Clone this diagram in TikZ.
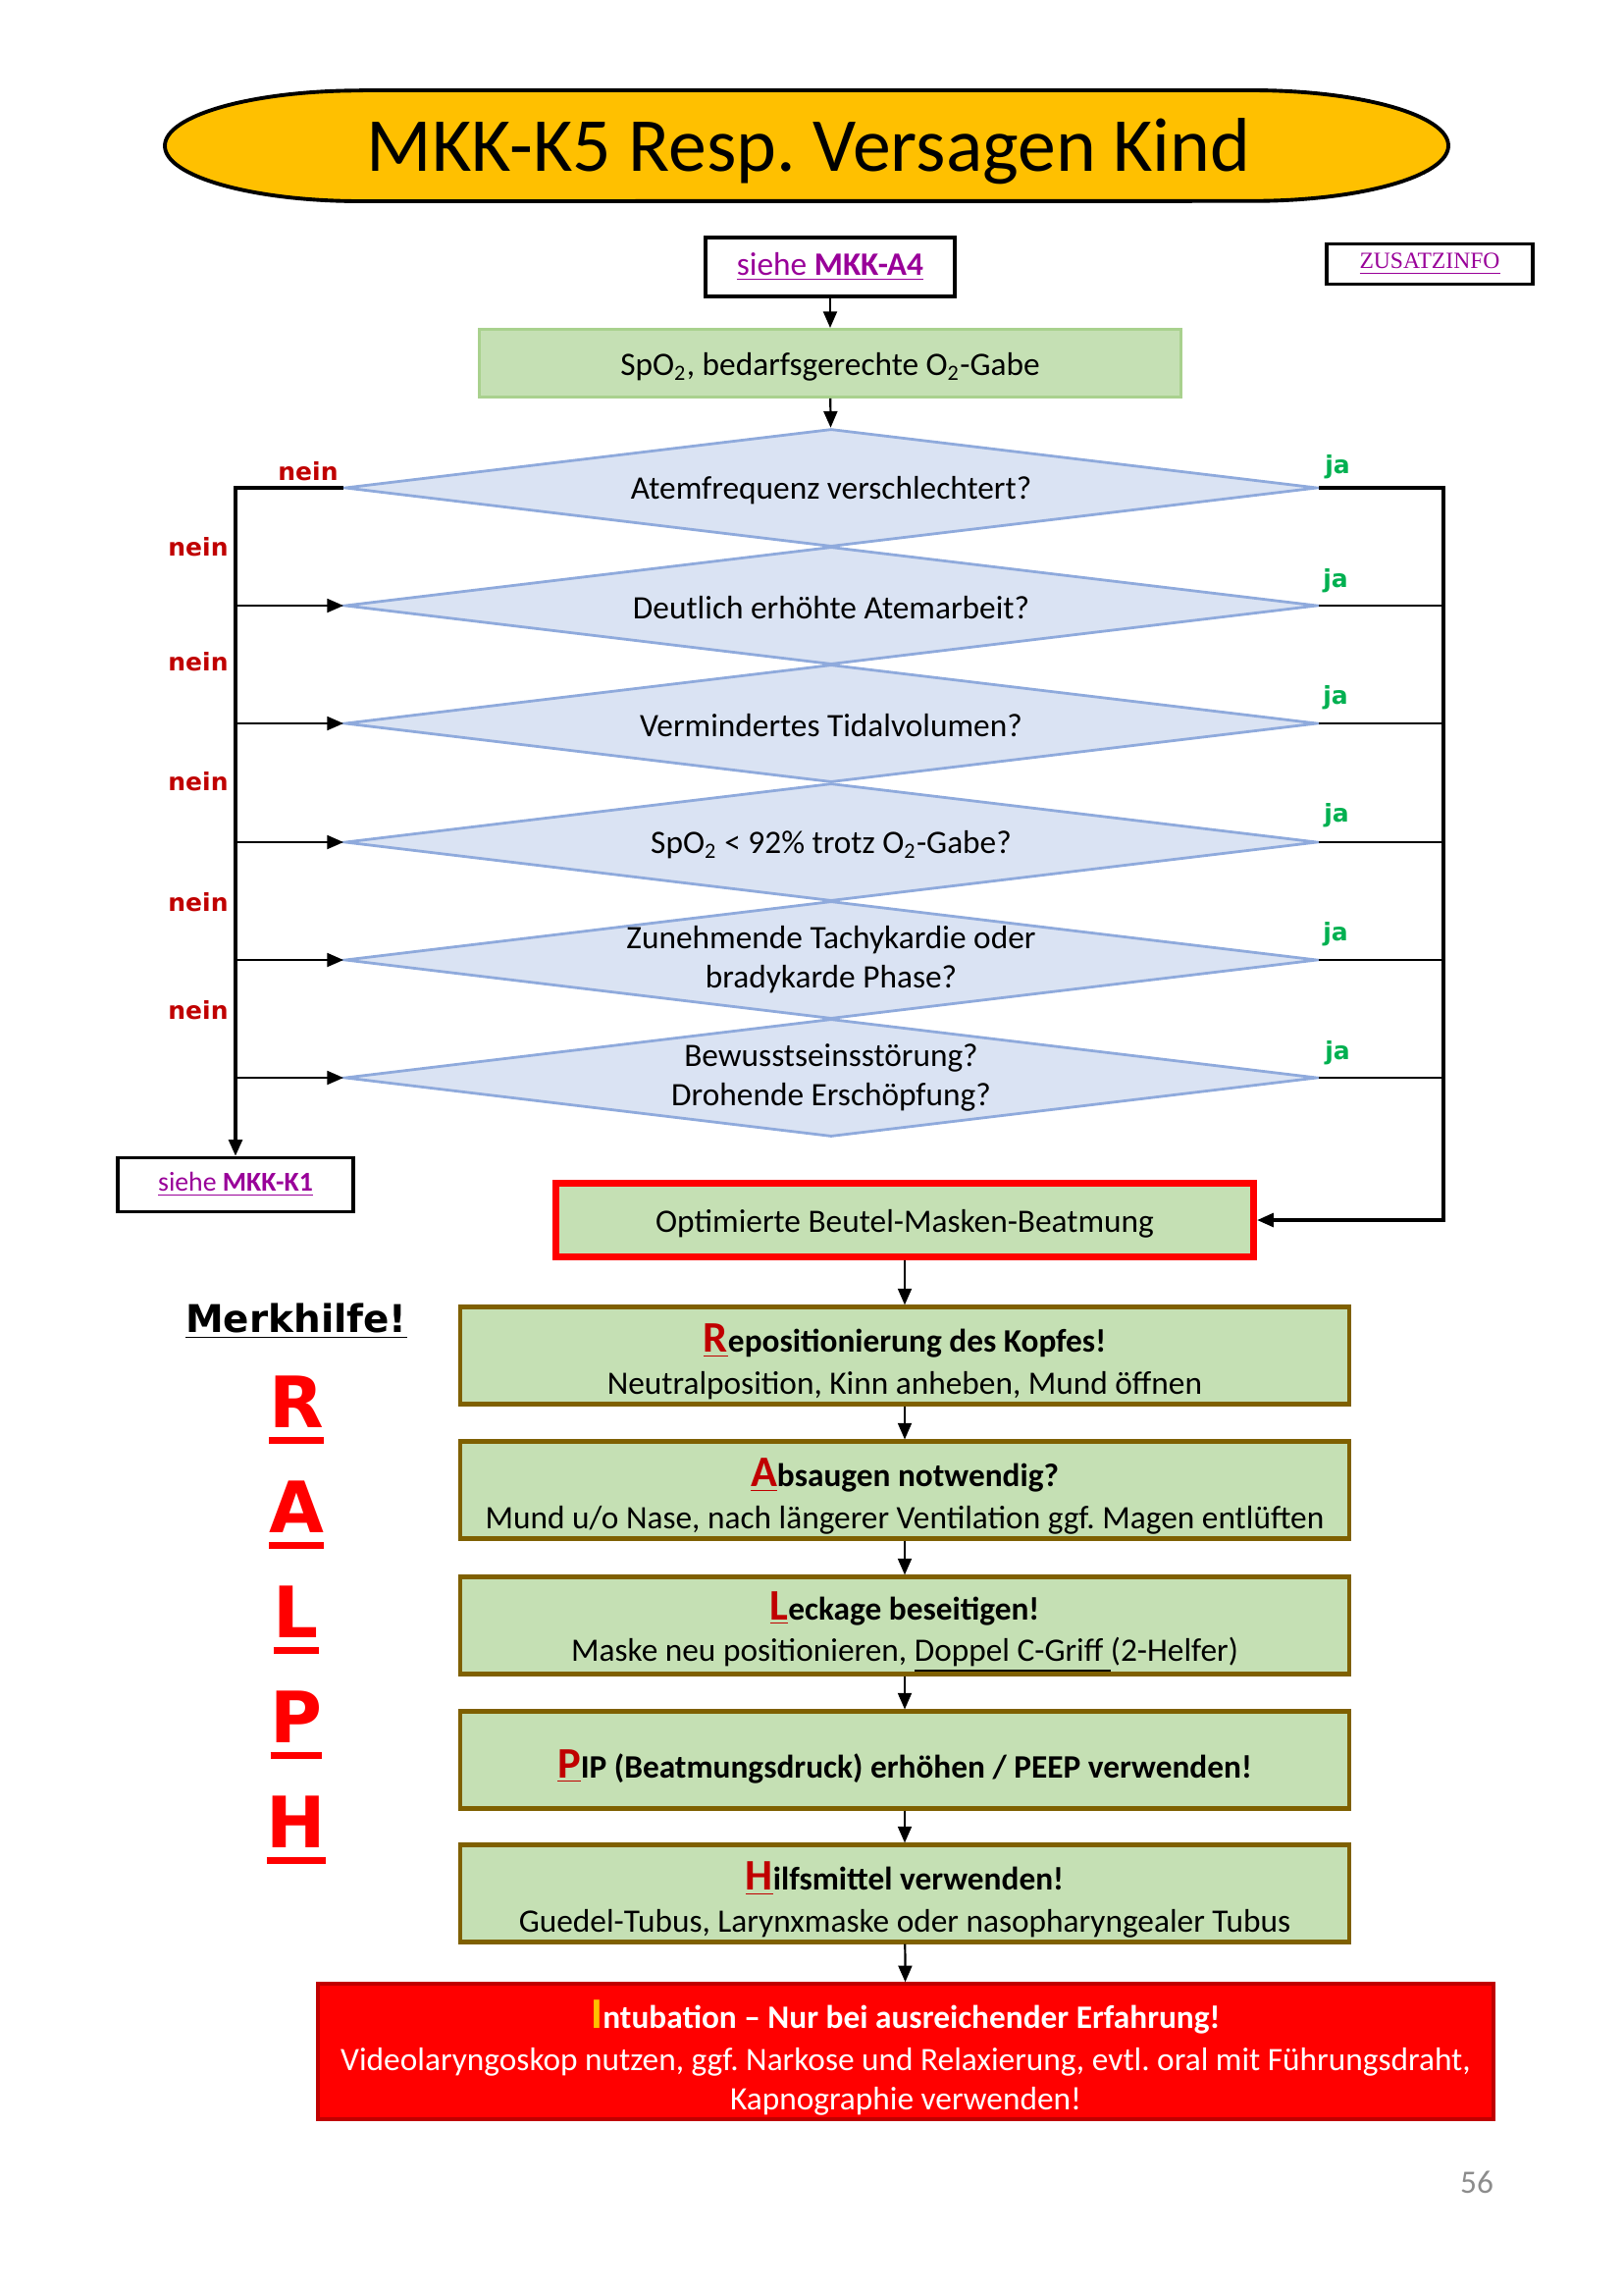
\documentclass[tikz,border=0pt]{standalone}
\usepackage{fontspec}
\setmainfont{Carlito}
\newfontfamily\verdana{DejaVu Sans}
\newfontfamily\timesrm{Liberation Serif}
\usetikzlibrary{shapes.geometric,arrows.meta,positioning}
\frenchspacing

\definecolor{kopfgelb}{HTML}{FFC000}
\definecolor{boxgruen}{HTML}{C5E0B4}
\definecolor{randgruen}{HTML}{A9D18E}
\definecolor{rautenblau}{HTML}{DAE3F3}
\definecolor{randblau}{HTML}{8FAADC}
\definecolor{linklila}{HTML}{990099}
\definecolor{neinrot}{HTML}{C00000}
\definecolor{jagruen}{HTML}{00B050}
\definecolor{randbraun}{HTML}{7F6000}
\definecolor{seitengrau}{HTML}{8C8C8C}

\newcommand{\erster}[2][neinrot]{{\fontsize{16}{16}\selectfont\color{#1}\underline{#2}}}
\newcommand{\oben}{\rule{0pt}{15pt}}
\newcommand{\strich}[1]{\vtop{\hbox{#1}\kern3.6pt\hrule height 2.5pt}}

\tikzset{
  normal/.style={font=\fontsize{12}{14.4}\selectfont},
  titel/.style={font=\fontsize{28}{32}\selectfont,inner sep=0pt},
  verweis/.style={draw=black,line width=1.3pt,fill=white,text=linklila,inner sep=0pt},
  start/.style={normal,fill=boxgruen,draw=randgruen,line width=1.1pt,minimum width=257.4pt,minimum height=24.8pt,inner sep=0pt},
  frage/.style={normal,diamond,shape aspect=8.26,fill=rautenblau,draw=randblau,line width=1pt,minimum width=356.8pt,minimum height=43.2pt,inner sep=-2pt,align=center},
  beatmung/.style={normal,fill=boxgruen,draw=red,line width=2.6pt,minimum width=256pt,minimum height=27pt,inner sep=0pt},
  massnahme/.style={normal,fill=boxgruen,draw=randbraun,line width=1.5pt,minimum width=326pt,minimum height=35.6pt,inner sep=0pt,align=center},
  nein/.style={text=neinrot,font=\verdana\bfseries\fontsize{9}{11}\selectfont,inner sep=0pt},
  ja/.style={text=jagruen,font=\verdana\bfseries\fontsize{9}{11}\selectfont,inner sep=0pt},
  merk/.style={text=red,font=\verdana\bfseries\fontsize{26}{30}\selectfont,inner sep=0pt,anchor=base},
  pfeil/.style={line width=0.8pt,-{Triangle[length=6pt,width=5pt]}},
  dick/.style={line width=1.1pt}
}

\begin{document}
\begin{tikzpicture}[x=0.36pt,y=-0.36pt]
\useasboundingbox (0,0) rectangle (1654,2331);

\draw[fill=kopfgelb,line width=1.4pt] (368,92) -- (1276,92) arc[start angle=90,end angle=-90,x radius=72pt,y radius=20.3pt]
  -- (368,205) arc[start angle=270,end angle=90,x radius=72pt,y radius=20.3pt] -- cycle;
\node[titel] (titel) at (824,154) {MKK-K5 Resp. Versagen Kind};
\node[verweis,minimum width=91.4pt,minimum height=21.6pt,font=\fontsize{12}{14}\selectfont] (a4) at (846,272) {\underline{siehe \textbf{MKK-A4}}};
\node[verweis,minimum width=75.6pt,minimum height=14.8pt,font=\timesrm\fontsize{8.5}{10}\selectfont] (zusatz) at (1457,269) {\underline{ZUSATZINFO}};
\node[start] (spo2) at (846,370) {\rule{0pt}{11pt}SpO\textsubscript{2}, bedarfsgerechte O\textsubscript{2}-Gabe};

\node[frage] (q1) at (847,497) {\rule{0pt}{10pt}Atemfrequenz verschlechtert?};
\node[frage] (q2) at (847,617) {\rule{0pt}{10pt}Deutlich erhöhte Atemarbeit?};
\node[frage] (q3) at (847,737) {\rule{0pt}{10pt}Vermindertes Tidalvolumen?};
\node[frage] (q4) at (847,858) {\rule{0pt}{10pt}SpO\textsubscript{2} < 92\% trotz O\textsubscript{2}-Gabe?};
\node[frage] (q5) at (847,978) {Zunehmende Tachykardie oder\\bradykarde Phase?};
\node[frage] (q6) at (847,1098) {Bewusstseinsstörung?\\Drohende Erschöpfung?};

\node[verweis,minimum width=86.4pt,minimum height=19.8pt,font=\fontsize{10}{12}\selectfont] (k1) at (240,1207) {\underline{siehe \textbf{MKK-K1}}};
\node[beatmung] (opt) at (922,1243) {\rule{0pt}{11pt}Optimierte Beutel-Masken-Beatmung};
\coordinate (rechts) at (1471,497);

\node[massnahme] (r) at (922,1381) {\textbf{\oben\erster{R}epositionierung des Kopfes!}\\[1pt]Neutralposition, Kinn anheben, Mund öffnen};
\node[massnahme] (a) at (922,1518) {\textbf{\oben\erster{A}bsaugen notwendig?}\\[1pt]Mund u/o Nase, nach längerer Ventilation ggf. Magen entlüften};
\node[massnahme] (l) at (922,1656) {\textbf{\oben\erster{L}eckage beseitigen!}\\[1pt]Maske neu positionieren, \underline{Doppel C-Griff\ }(2-Helfer)};
\node[massnahme] (p) at (922,1793) {\textbf{\oben\erster{P}IP (Beatmungsdruck) erhöhen / PEEP verwenden!}};
\node[massnahme] (h) at (922,1929) {\textbf{\oben\erster{H}ilfsmittel verwenden!}\\[1pt]Guedel-Tubus, Larynxmaske oder nasopharyngealer Tubus};
\node[normal,fill=red,draw=neinrot,line width=1.2pt,minimum width=431.3pt,minimum height=49.7pt,inner sep=0pt,align=center,text=white] (intu) at (923,2090)
  {\textbf{\oben{\fontsize{16}{16}\selectfont\color{kopfgelb}I}ntubation – Nur bei ausreichender Erfahrung!}\\[1pt]Videolaryngoskop nutzen, ggf. Narkose und Relaxierung, evtl. oral mit Führungsdraht,\\[0pt]Kapnographie verwenden!};

\node[font=\verdana\bfseries\fontsize{14}{17}\selectfont,inner sep=0pt] (merkhilfe) at (302,1346) {\underline{Merkhilfe!}};
\node[merk] (mr) at (302,1454) {\strich{R}};
\node[merk] (ma) at (302,1561) {\strich{A}};
\node[merk] (ml) at (302,1668) {\strich{L}};
\node[merk] (mp) at (302,1775) {\strich{P}};
\node[merk] (mh) at (302,1882) {\strich{H}};

\draw[pfeil] (a4) -- (spo2);
\draw[pfeil] (spo2) -- (q1);
\draw[dick,-{Triangle[length=6pt,width=5pt]}] (q1.west) -- (q1.west -| k1.north) -- (k1.north);
\foreach \i in {2,...,6}
  \draw[pfeil] (q\i.west -| k1.north) -- (q\i.west);
\draw[dick,-{Triangle[length=6pt,width=5pt]}] (q1.east) -- (rechts) -- (opt.east -| rechts) -- (opt.east);
\foreach \i in {2,...,6}
  \draw[line width=0.4pt] (q\i.east) -- (q\i.east -| rechts);
\draw[pfeil] (opt) -- (r);
\draw[pfeil] (r) -- (a);
\draw[pfeil] (a) -- (l);
\draw[pfeil] (l) -- (p);
\draw[pfeil] (p) -- (h);
\draw[pfeil] (h) -- (intu);

\node[nein] (n1) at (314,480) {nein};
\node[nein] (n2) at (202,557) {nein};
\node[nein] (n3) at (202,674) {nein};
\node[nein] (n4) at (202,796) {nein};
\node[nein] (n5) at (202,919) {nein};
\node[nein] (n6) at (202,1029) {nein};
\node[ja] (j1) at (1363,476) {ja};
\node[ja] (j2) at (1361,592) {ja};
\node[ja] (j3) at (1361,711) {ja};
\node[ja] (j4) at (1362,831) {ja};
\node[ja] (j5) at (1361,952) {ja};
\node[ja] (j6) at (1363,1073) {ja};

\node[text=seitengrau,font=\fontsize{12}{14}\selectfont] (seite) at (1505,2223) {56};
\end{tikzpicture}
\end{document}
